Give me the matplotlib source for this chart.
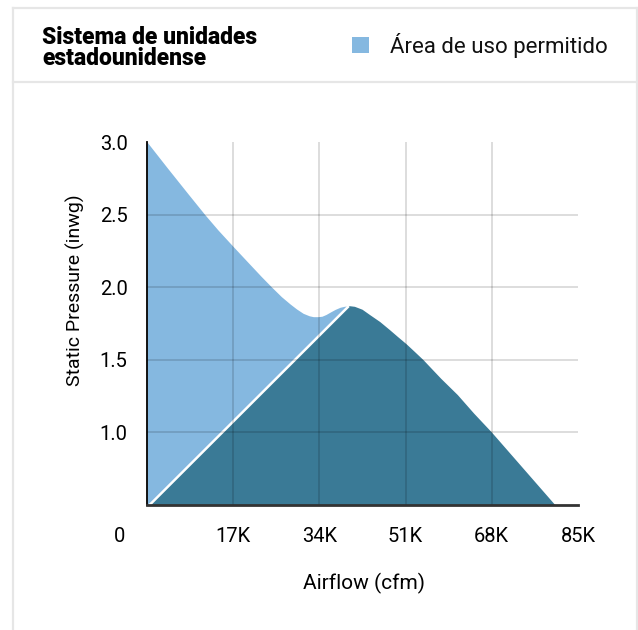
import matplotlib
matplotlib.use("Agg")
import matplotlib.pyplot as plt
import matplotlib.transforms as mtransforms
from matplotlib.patches import Rectangle
from matplotlib.lines import Line2D

plt.rcParams['font.family'] = ['Roboto', 'DejaVu Sans']

# ---- data (airflow in thousands of cfm, pressure in inwg) ----
upper_x = [0, 4, 8, 11.4, 14, 17, 20, 22.5, 24.6, 26.5, 28.2, 29.5, 30.8, 32, 32.8, 33.7,
           34.5, 35.3, 36.1, 37.1, 38.1, 39.0, 39.8]
upper_y = [3.0, 2.822, 2.647, 2.5, 2.394, 2.28, 2.168, 2.075, 2.0, 1.935, 1.885, 1.85, 1.82,
           1.803, 1.797, 1.797, 1.80, 1.812, 1.828, 1.847, 1.862, 1.869, 1.87]

diag_x = [0.5, 39.8]
diag_y = [0.5, 1.87]

dark_x = [39.8, 41.0, 42.5, 44.0, 46.0, 47.9, 49.5, 51.2, 52.8, 54.5, 58.0, 61.3, 64.5, 68.0,
          71.0, 74.0, 77.0, 80.5]
dark_y = [1.87, 1.865, 1.845, 1.808, 1.76, 1.705, 1.657, 1.607, 1.555, 1.499, 1.37, 1.257,
          1.13, 1.0, 0.88, 0.76, 0.64, 0.5]

xticks = [0, 17, 34, 51, 68, 85]
xtick_labels = ['0', '17K', '34K', '51K', '68K', '85K']
yticks = [1.0, 1.5, 2.0, 2.5, 3.0]
ytick_labels = ['1.0', '1.5', '2.0', '2.5', '3.0']

title_text = "Sistema de unidades\nestadounidense"
legend_text = "Área de uso permitido"
xlabel = "Airflow (cfm)"
ylabel = "Static Pressure (inwg)"

light = '#85b8e0'
dark = '#3a7a96'

W, H = 638, 630
fig = plt.figure(figsize=(W / 100, H / 100), dpi=100)

# card frame
border = '#e6e6e6'
for xs, ys in [([13, 13], [630, 8]), ([637, 637], [630, 8]), ([13, 637], [8, 8]), ([13, 637], [82, 82])]:
    fig.add_artist(Line2D([x / W for x in xs], [1 - y / H for y in ys], color=border, lw=1.6,
                          transform=fig.transFigure))

# header
fig.text(42 / W, 1 - 26 / H, title_text, fontsize=16.5, fontweight='black', va='top', ha='left',
         linespacing=0.88, color='black')
fig.add_artist(Rectangle((352 / W, 1 - 53 / H), 17 / W, 16 / H, transform=fig.transFigure,
                         facecolor=light, edgecolor='none'))
fig.text(390 / W, 1 - 45 / H, legend_text, fontsize=16, va='center', ha='left', color='#111111')

# axes
left, right, top, bottom = 147, 578, 142, 505
ax = fig.add_axes([left / W, 1 - bottom / H, (right - left) / W, (bottom - top) / H])
ax.set_xlim(0, 85)
ax.set_ylim(0.5, 3.0)

ax.fill_between(upper_x, [0.5] * len(upper_x), upper_y, color=light, lw=0, zorder=1)
ax.fill(diag_x + dark_x[1:], diag_y + dark_y[1:], color=dark, lw=0, zorder=1.5)
ax.plot(diag_x, diag_y, color='white', lw=1.8, zorder=2, solid_capstyle='butt')

grid_col = (0, 0, 0, 0.15)
ax.vlines(xticks[1:-1], 0.5, 3.0, colors=[grid_col], lw=1.3, zorder=3)
ax.hlines(yticks[:-1], 0, 85, colors=[grid_col], lw=1.3, zorder=3)

for s in ['top', 'right']:
    ax.spines[s].set_visible(False)
ax.spines['left'].set_color('black')
ax.spines['left'].set_linewidth(1.3)
ax.spines['bottom'].set_color('#333333')
ax.spines['bottom'].set_linewidth(2)
ax.spines['left'].set_zorder(4)
ax.spines['bottom'].set_zorder(4)

ax.set_xticks(xticks)
ax.set_xticklabels(xtick_labels)
ax.set_yticks(yticks)
ax.set_yticklabels(ytick_labels)
ax.tick_params(axis='both', length=0, labelsize=14.5, colors='black')
ax.tick_params(axis='x', pad=16)
ax.tick_params(axis='y', pad=14)

# shift the "0" label left like the reference
lab0 = ax.get_xticklabels()[0]
lab0.set_transform(lab0.get_transform() + mtransforms.ScaledTranslation(-27 / 100, 0, fig.dpi_scale_trans))

fig.text(364 / W, 1 - 583 / H, xlabel, fontsize=15, ha='center', va='center')
fig.text(75 / W, 1 - 290 / H, ylabel, fontsize=14, ha='center', va='center', rotation=90)

fig.savefig('out.png', dpi=100)
